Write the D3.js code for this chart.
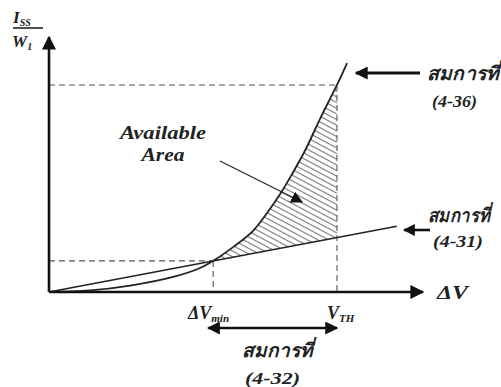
<!DOCTYPE html>
<html>
<head>
<meta charset="utf-8">
<script src="https://cdn.jsdelivr.net/npm/d3@7"></script>
<style>
  body { margin: 0; background: #fff; }
  text { font-family: "Liberation Serif", "DejaVu Serif", serif; font-weight: bold; font-style: italic; fill: #222; }
</style>
</head>
<body>
<svg width="501" height="387"></svg>
<script>
const svg = d3.select("svg");

// curve (4-36)
const curveX = [0, 1.1, 2.17, 3.32, 4.04, 4.39, 4.92, 5.45, 5.83, 6.18, 6.5, 6.84, 7.27, 7.7, 7.97];
const curveY = [0, 0.06, 0.25, 0.59, 0.94, 1.22, 1.76, 2.39, 3.1, 3.84, 4.63, 5.53, 6.86, 8.12, 8.98];
// straight line (4-31)
const lineX = [0, 9.3];
const lineY = [0, 2.58];
// marked points
const dvMin = 4.39;
const dvMinY = 1.22;
const vTh = 7.7;
const vThY = 8.12;

const x = d3.scaleLinear().domain([0, 10]).range([49, 423]);
const y = d3.scaleLinear().domain([0, 10]).range([292, 37]);

const curvePts = curveX.map((d, i) => [d, curveY[i]]);
const linePts = lineX.map((d, i) => [d, lineY[i]]);
const lineAt = (v) => lineY[1] * v / lineX[1];

const defs = svg.append("defs");
defs.append("pattern")
  .attr("id", "hatch")
  .attr("patternUnits", "userSpaceOnUse")
  .attr("width", 5).attr("height", 5)
  .attr("patternTransform", "rotate(28)")
  .append("line")
  .attr("x1", 0).attr("y1", 2.5).attr("x2", 5).attr("y2", 2.5)
  .attr("stroke", "#777").attr("stroke-width", 1.1);

const marker = (id, size) => defs.append("marker")
  .attr("id", id)
  .attr("viewBox", "0 0 10 10")
  .attr("refX", 9).attr("refY", 5)
  .attr("markerUnits", "userSpaceOnUse")
  .attr("markerWidth", size).attr("markerHeight", size)
  .attr("orient", "auto-start-reverse")
  .append("path").attr("d", "M0,0L10,5L0,10Z").attr("fill", "#111");
marker("arrowBig", 14);
marker("arrowMid", 13);
marker("arrowSmall", 12);

const smooth = d3.curveCatmullRom.alpha(0.5);
const curveGen = d3.line().x((d) => x(d[0])).y((d) => y(d[1])).curve(smooth);

// clip: area under the curve
defs.append("clipPath").attr("id", "under")
  .append("path")
  .attr("d", d3.area().x((d) => x(d[0])).y0(y(0)).y1((d) => y(d[1])).curve(smooth)(curvePts));

// hatched available area
const hatchPts = [[dvMin, lineAt(dvMin)], [vTh, lineAt(vTh)], [vTh, vThY + 1], [dvMin, vThY + 1]];
svg.append("path")
  .attr("d", d3.line().x((d) => x(d[0])).y((d) => y(d[1]))(hatchPts) + "Z")
  .attr("fill", "url(#hatch)")
  .attr("clip-path", "url(#under)");

// dashed guides
const dashes = [
  [[0, dvMinY], [dvMin, dvMinY]],
  [[dvMin, dvMinY], [dvMin, 0]],
  [[0, vThY], [vTh, vThY]],
  [[vTh, vThY], [vTh, 0]],
];
svg.selectAll("line.guide").data(dashes).enter().append("line")
  .attr("class", "guide")
  .attr("x1", (d) => x(d[0][0])).attr("y1", (d) => y(d[0][1]))
  .attr("x2", (d) => x(d[1][0])).attr("y2", (d) => y(d[1][1]))
  .attr("stroke", "#555").attr("stroke-width", 1.1)
  .attr("stroke-dasharray", "6,4");

// curve and line
svg.append("path").attr("d", curveGen(curvePts))
  .attr("fill", "none").attr("stroke", "#222").attr("stroke-width", 1.8);
svg.append("path").attr("d", d3.line().x((d) => x(d[0])).y((d) => y(d[1]))(linePts))
  .attr("fill", "none").attr("stroke", "#222").attr("stroke-width", 1.6);

// axes
svg.append("line")
  .attr("x1", x(0)).attr("y1", y(0)).attr("x2", x(0)).attr("y2", y(10))
  .attr("stroke", "#111").attr("stroke-width", 2.6).attr("marker-end", "url(#arrowBig)");
svg.append("line")
  .attr("x1", x(0)).attr("y1", y(0)).attr("x2", x(10)).attr("y2", y(0))
  .attr("stroke", "#111").attr("stroke-width", 2.6).attr("marker-end", "url(#arrowBig)");

// pointer to available area
svg.append("line")
  .attr("x1", 220).attr("y1", 161).attr("x2", 302).attr("y2", 202)
  .attr("stroke", "#222").attr("stroke-width", 1.1).attr("marker-end", "url(#arrowSmall)");

// annotation arrows
svg.append("line")
  .attr("x1", 420).attr("y1", 73).attr("x2", 356).attr("y2", 73)
  .attr("stroke", "#111").attr("stroke-width", 3).attr("marker-end", "url(#arrowMid)");
svg.append("line")
  .attr("x1", 430).attr("y1", 230).attr("x2", 404).attr("y2", 230)
  .attr("stroke", "#111").attr("stroke-width", 2.6).attr("marker-end", "url(#arrowSmall)");
svg.append("line")
  .attr("x1", x(dvMin) - 5).attr("y1", 328).attr("x2", x(vTh)).attr("y2", 328)
  .attr("stroke", "#111").attr("stroke-width", 2.6)
  .attr("marker-start", "url(#arrowMid)").attr("marker-end", "url(#arrowMid)");

// texts
const txt = (tx, ty, s, size, w, anchor) => {
  const t = svg.append("text")
    .attr("x", tx).attr("y", ty).attr("font-size", size)
    .attr("text-anchor", anchor || "start").text(s);
  if (w) t.attr("textLength", w).attr("lengthAdjust", "spacingAndGlyphs");
  return t;
};

// y label
const yl = svg.append("text").attr("x", 13).attr("y", 23).attr("font-size", 17);
yl.append("tspan").text("I");
yl.append("tspan").attr("font-size", 10).attr("dy", 3).text("SS");
svg.append("line").attr("x1", 13).attr("x2", 43).attr("y1", 28).attr("y2", 28)
  .attr("stroke", "#222").attr("stroke-width", 1.6);
const wl = svg.append("text").attr("x", 12).attr("y", 47).attr("font-size", 17);
wl.append("tspan").text("W");
wl.append("tspan").attr("font-size", 10).attr("dy", 3).text("1");

txt(437, 299, "ΔV", 19, 31);

const dl = svg.append("text").attr("x", 188).attr("y", 319).attr("font-size", 18);
dl.append("tspan").text("ΔV");
dl.append("tspan").attr("font-size", 11).attr("dy", 3).text("min");
const vl = svg.append("text").attr("x", 327).attr("y", 319).attr("font-size", 18);
vl.append("tspan").text("V");
vl.append("tspan").attr("font-size", 11).attr("dy", 3).text("TH");

txt(163, 139, "Available", 19, 86, "middle");
txt(163, 161, "Area", 19, 43, "middle");

txt(427, 80, "สมการที่", 19, 72);
txt(432, 107, "(4-36)", 17, 45);
txt(428, 222, "สมการที่", 19, 62);
txt(433, 247, "(4-31)", 17, 50);
txt(242, 357, "สมการที่", 19, 71);
txt(245, 384, "(4-32)", 17, 55);
</script>
</body>
</html>
